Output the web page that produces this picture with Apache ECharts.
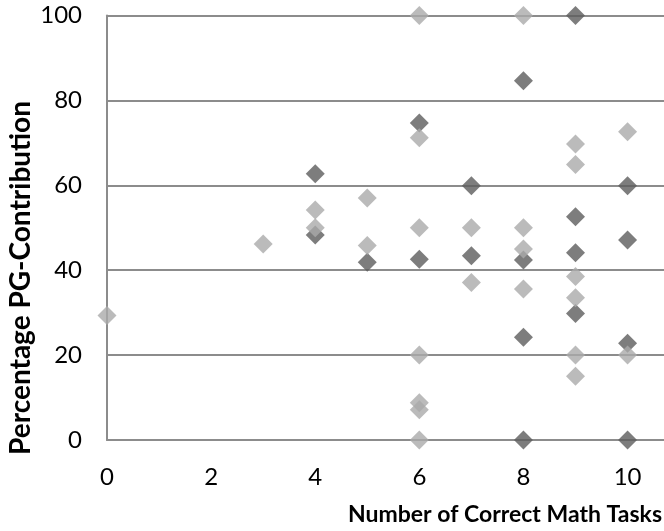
<!DOCTYPE html>
<html>
<head>
<meta charset="utf-8">
<script src="https://cdn.jsdelivr.net/npm/echarts@6/dist/echarts.min.js"></script>
<style>
html,body{margin:0;padding:0;background:#fff;}
#chart{width:664px;height:531px;}
</style>
</head>
<body>
<div id="chart"></div>
<script>
// Dark series: [correct math tasks, percentage PG-contribution]
const darkX = [4, 4, 5, 6, 6, 7, 7, 8, 8, 8, 8, 9, 9, 9, 9, 10, 10, 10, 10];
const darkY = [62.7, 48.3, 41.9, 74.7, 42.6, 59.9, 43.4, 84.6, 42.4, 24.2, 0, 100, 52.6, 44.1, 29.8, 59.9, 47.1, 22.8, 0];
// Light series
const lightX = [0, 3, 4, 4, 5, 5, 6, 6, 6, 6, 6, 6, 6, 7, 7, 8, 8, 8, 8, 9, 9, 9, 9, 9, 9, 10, 10];
const lightY = [29.3, 46.2, 54.2, 50, 57, 45.8, 100, 71.2, 50, 20, 8.8, 7.1, 0, 50, 37.1, 100, 50, 45, 35.6, 69.7, 64.9, 38.5, 33.5, 20, 15, 72.6, 20];

const xTitle = 'Number of Correct Math Tasks';
const yTitle = 'Percentage PG-Contribution';

const FONT = 'Lato';
const chart = echarts.init(document.getElementById('chart'), null, {renderer: 'canvas'});
const zip = (xs, ys) => xs.map((x, i) => [x, ys[i]]);

chart.setOption({
  animation: false,
  backgroundColor: '#ffffff',
  grid: {left: 107, right: 0, top: 15.5, bottom: 91, containLabel: false},
  xAxis: {
    type: 'value', min: 0, max: 10.7, interval: 2,
    axisLine: {show: true, lineStyle: {color: '#8c8c8c', width: 2}},
    axisTick: {show: false},
    splitLine: {show: false},
    axisLabel: {showMaxLabel: false, margin: 25, color: '#000', fontFamily: FONT, fontSize: 24}
  },
  yAxis: {
    type: 'value', min: 0, max: 100, interval: 20,
    axisLine: {show: true, lineStyle: {color: '#8c8c8c', width: 2}},
    axisTick: {show: false},
    splitLine: {show: true, lineStyle: {color: '#8c8c8c', width: 2}},
    axisLabel: {margin: 25, color: '#000', fontFamily: FONT, fontSize: 24}
  },
  graphic: [
    {type: 'text', x: 662, y: 515,
     style: {text: xTitle, fontFamily: FONT, fontWeight: 'bold', fontSize: 23, fill: '#000', textAlign: 'right', textVerticalAlign: 'middle'}},
    {type: 'text', x: 21, y: 278, rotation: Math.PI / 2,
     style: {text: yTitle, fontFamily: FONT, fontWeight: 'bold', fontSize: 28, fill: '#000', textAlign: 'center', textVerticalAlign: 'middle'}}
  ],
  series: [
    {type: 'scatter', name: 'dark', symbol: 'diamond', symbolSize: 19,
     itemStyle: {color: '#5c5c5c'}, data: zip(darkX, darkY), z: 2},
    {type: 'scatter', name: 'light', symbol: 'diamond', symbolSize: 19,
     itemStyle: {color: '#aaaaaa'}, data: zip(lightX, lightY), z: 3}
  ]
});
</script>
</body>
</html>
